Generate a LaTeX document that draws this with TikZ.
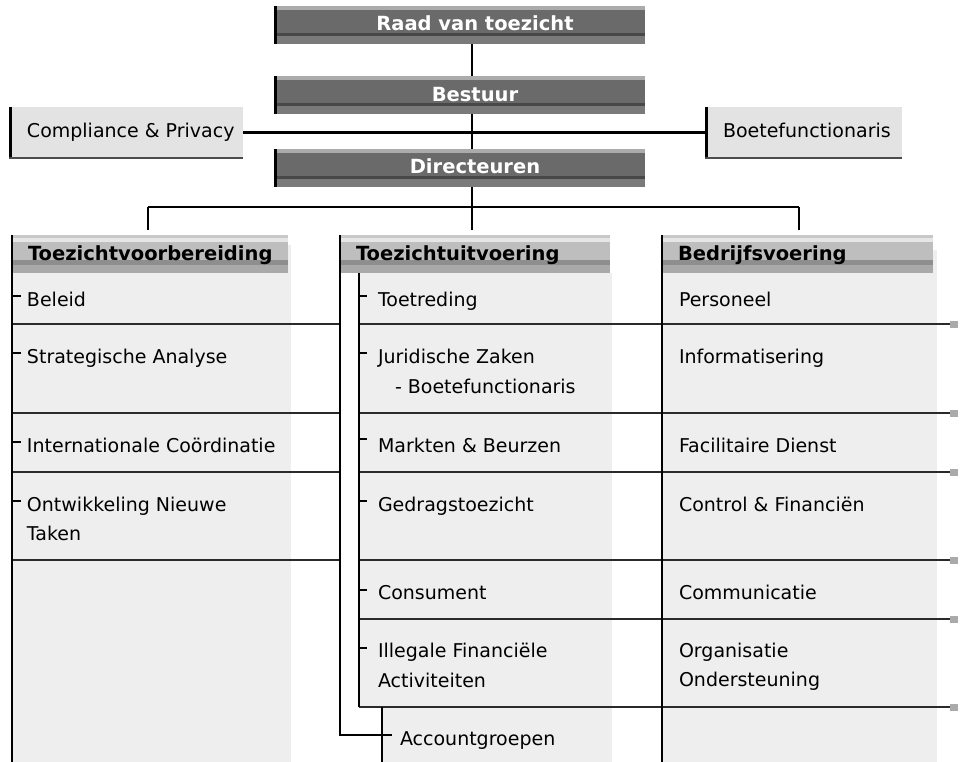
\documentclass[tikz,border=0pt]{standalone}
\usepackage{fontspec}
\setmainfont{DejaVu Sans}
\newcommand{\fsr}{\fontsize{19}{29}\selectfont}
\newcommand{\fsbd}{\fontsize{19.5}{29}\selectfont\bfseries}
\definecolor{bodybg}{HTML}{EEEEEE}
\definecolor{boxbg}{HTML}{E3E3E3}
\definecolor{tbA}{HTML}{ABABAB}
\definecolor{tbB}{HTML}{6A6A6A}
\definecolor{tbC}{HTML}{484848}
\definecolor{tbD}{HTML}{7A7A7A}
\definecolor{hbA}{HTML}{C8C8C8}
\definecolor{hbB}{HTML}{E6E6E6}
\definecolor{hbC}{HTML}{BEBEBE}
\definecolor{hbD}{HTML}{8E8E8E}
\definecolor{hbE}{HTML}{A9A9A9}
\definecolor{sepc}{HTML}{2A2A2A}
\definecolor{sqc}{HTML}{AAAAAA}
\begin{document}
\begin{tikzpicture}[x=1pt,y=-1pt,
 base/.style={inner sep=0pt,outer sep=0pt},
 itm/.style={base,anchor=base west,font=\fsr,text=black},
 hdt/.style={base,anchor=base west,font=\fsbd,text=black},
 topt/.style={base,anchor=base,font=\fsbd,text=white},
 topbar/.style={base,anchor=north west,minimum width=371pt,minimum height=38pt,fill=tbB,
   path picture={
     \fill[tbA] (path picture bounding box.north west) rectangle ([yshift=-4pt]path picture bounding box.north east);
     \fill[tbC] ([yshift=-27pt]path picture bounding box.north west) rectangle ([yshift=-30pt]path picture bounding box.north east);
     \fill[tbD] ([yshift=-30pt]path picture bounding box.north west) rectangle (path picture bounding box.south east);
   }},
 headbar/.style={base,anchor=north west,minimum height=38pt,fill=hbC,
   path picture={
     \fill[hbA] (path picture bounding box.north west) rectangle ([yshift=-3.3pt]path picture bounding box.north east);
     \fill[hbB] ([yshift=-3.3pt]path picture bounding box.north west) rectangle ([yshift=-6.5pt]path picture bounding box.north east);
     \fill[hbD] ([yshift=-25pt]path picture bounding box.north west) rectangle ([yshift=-30pt]path picture bounding box.north east);
     \fill[hbE] ([yshift=-30pt]path picture bounding box.north west) rectangle (path picture bounding box.south east);
   }},
 sidebox/.style={base,anchor=north west,minimum height=51pt,fill=boxbg},
 conn/.style={line width=2.4pt,black},
 vline/.style={line width=2.8pt,black},
 sepline/.style={line width=1.7pt,sepc},
 tickline/.style={line width=2.6pt,black},
 edgeline/.style={line width=3pt,black},
 bottomedge/.style={line width=1.5pt,black!70}
]
\useasboundingbox (0,0) rectangle (960,762);
\fill[white] (0,0) rectangle (960,762);

% column backgrounds
\fill[bodybg] (12,245) rectangle (291,762);
\fill[bodybg] (358,273) rectangle (612,707);
\fill[bodybg] (381,707) rectangle (612,762);
\fill[bodybg] (662,250) rectangle (937,762);

% top bars
\node[topbar] (raad) at (274,6) {};
\node[topbar] (bestuur) at (274,76) {};
\node[topbar] (dir) at (274,149) {};
\foreach \n in {raad,bestuur,dir}
  \draw[line width=2.5pt] ([xshift=1.25pt]\n.north west) -- ([xshift=1.25pt]\n.south west);
\node[topt] (raadt) at (475,31) {Raad van toezicht};
\node[topt] (bestuurt) at (475,102) {Bestuur};
\node[topt] (dirt) at (475,174) {Directeuren};

% side boxes
\node[sidebox,minimum width=234pt] (comp) at (9,107) {};
\node[sidebox,minimum width=197pt] (boete) at (705,107) {};
\draw[edgeline] ([xshift=1.5pt]comp.north west) -- ([xshift=1.5pt]comp.south west);
\draw[bottomedge] (comp.south west) -- (comp.south east);
\draw[edgeline] ([xshift=1.5pt]boete.north west) -- ([xshift=1.5pt]boete.south west);
\draw[bottomedge] (boete.south west) -- (boete.south east);
\node[itm] (compt) at (27,137.5) {Compliance \& Privacy};
\node[itm] (boetet) at (723,138) {Boetefunctionaris};

% spine and connectors
\coordinate (sp) at (472,0);
\draw[conn] (raad.south -| sp) -- (bestuur.north -| sp);
\draw[conn] (bestuur.south -| sp) -- (dir.north -| sp);
\draw[conn] (comp.east) -- (boete.west);
\coordinate (b1) at (148,207);
\coordinate (b2) at (472,207);
\coordinate (b3) at (799,207);
\draw[conn] (dir.south -| sp) -- (b2);
\draw[conn] (b1) -- (b3);

% column headers
\node[headbar,minimum width=276pt] (h1) at (12,235) {};
\node[headbar,minimum width=270pt] (h2) at (340,235) {};
\node[headbar,minimum width=271pt] (h3) at (662,235) {};
\draw[conn,shorten >=5pt] (b1) -- (b1 |- h1.north);
\draw[conn,shorten >=5pt] (b2) -- (b2 |- h2.north);
\draw[conn,shorten >=5pt] (b3) -- (b3 |- h3.north);
\node[hdt] (h1t) at (28,260) {Toezichtvoorbereiding};
\node[hdt] (h2t) at (356,260) {Toezichtuitvoering};
\node[hdt] (h3t) at (678,260) {Bedrijfsvoering};

% separators
\foreach \y in {324,413,472,560}
  \draw[sepline] (12,\y) -- (340,\y);
\foreach \y in {324,413,472,560,619,707}{
  \draw[sepline] (359,\y) -- (950,\y);
  \fill[sqc] (950,\y-3.5) rectangle (958,\y+3.5);
}

% column lines
\coordinate (bot) at (0,762);
\coordinate (acc) at (392,735);
\draw[vline] (h1.north west) -- (h1.north west |- bot);
\draw[vline] (h2.north west) -- (h2.north west |- acc) -- (acc);
\draw[vline] (359,273) -- (359,707);
\draw[vline] (382,707) -- (382,762);
\draw[vline] (h3.north west) -- (h3.north west |- bot);

% ticks
\foreach \y in {296,353,442,501}
  \draw[tickline] (12,\y) -- (21,\y);
\foreach \y in {296,353,439,501,590,648}
  \draw[tickline] (359,\y) -- (367,\y);

% column 1 items
\node[itm] (c1a) at (27,306) {Beleid};
\node[itm] (c1b) at (27,363) {Strategische Analyse};
\node[itm] (c1c) at (27,452) {Internationale Coördinatie};
\node[itm] (c1d) at (27,511) {Ontwikkeling Nieuwe};
\node[itm] (c1e) at (27,540) {Taken};

% column 2 items
\node[itm] (c2a) at (378,306) {Toetreding};
\node[itm] (c2b) at (378,363) {Juridische Zaken};
\node[itm] (c2c) at (395,393) {- Boetefunctionaris};
\node[itm] (c2d) at (378,452) {Markten \& Beurzen};
\node[itm] (c2e) at (378,511) {Gedragstoezicht};
\node[itm] (c2f) at (378,599) {Consument};
\node[itm] (c2g) at (378,657) {Illegale Financiële};
\node[itm] (c2h) at (378,687) {Activiteiten};
\node[itm] (c2i) at (400,745) {Accountgroepen};

% column 3 items
\node[itm] (c3a) at (679,306) {Personeel};
\node[itm] (c3b) at (679,363) {Informatisering};
\node[itm] (c3c) at (679,452) {Facilitaire Dienst};
\node[itm] (c3d) at (679,511) {Control \& Financiën};
\node[itm] (c3e) at (679,599) {Communicatie};
\node[itm] (c3f) at (679,657) {Organisatie};
\node[itm] (c3g) at (679,686) {Ondersteuning};
\end{tikzpicture}
\end{document}
